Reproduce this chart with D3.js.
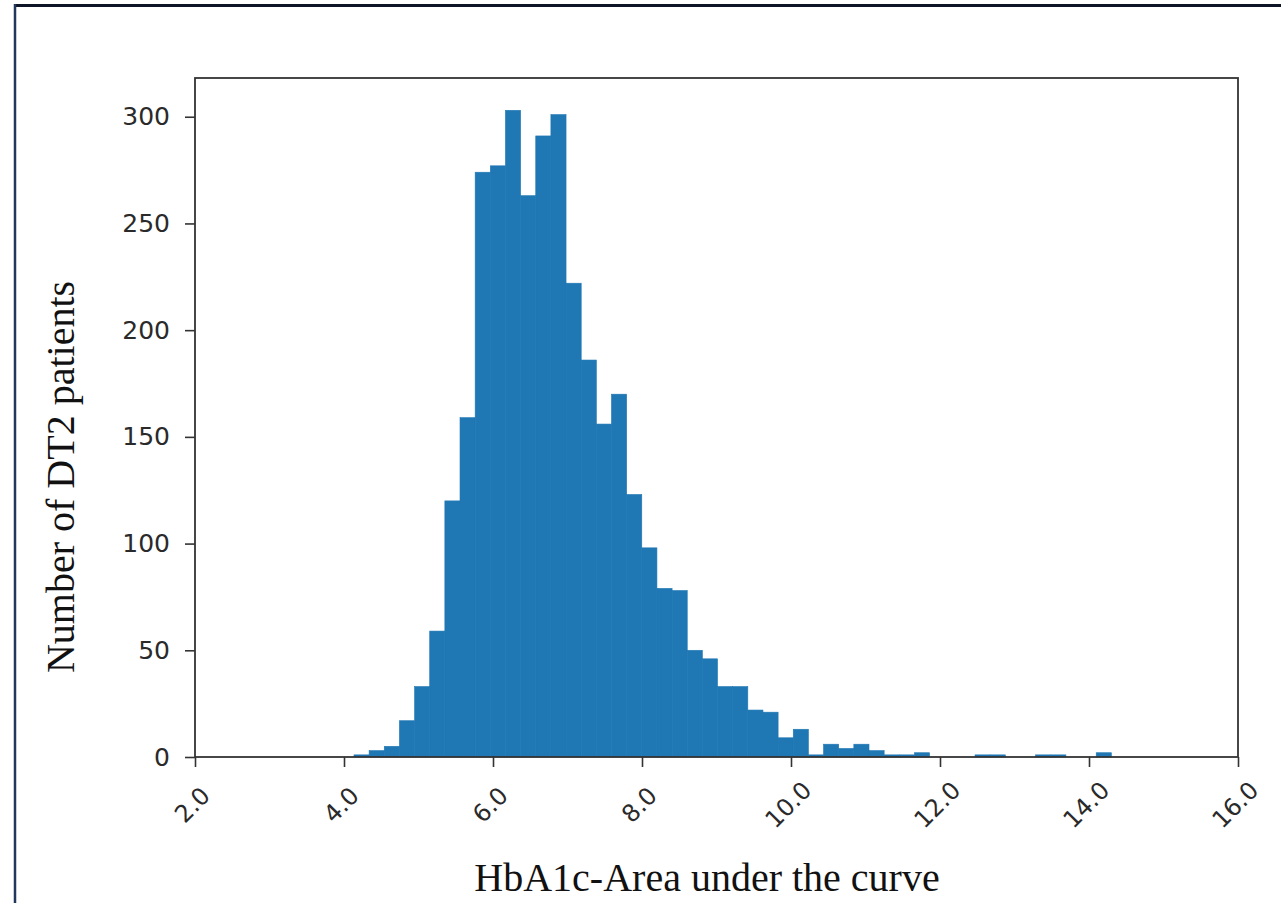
<!DOCTYPE html>
<html>
<head>
<meta charset="utf-8">
<script src="https://cdn.jsdelivr.net/npm/d3@7"></script>
<style>
  html, body { margin: 0; padding: 0; background: #fff; }
  svg { display: block; }
</style>
</head>
<body>
<svg id="chart" width="1281" height="903"></svg>
<script>
// ---- data ----
const binMin = 4.134;      // left edge of first bin
const binMax = 14.30;      // right edge of last bin
const counts = [1, 3, 5, 17, 33, 59, 120, 159, 274, 277,
                303, 263, 291, 301, 222, 186, 156, 170, 123, 98,
                79, 78, 50, 46, 33, 33, 22, 21, 9, 13,
                1, 6, 4, 6, 3, 1, 1, 2, 0, 0,
                0, 1, 1, 0, 0, 1, 1, 0, 0, 2];
const xTicks = [2, 4, 6, 8, 10, 12, 14, 16];
const yTicks = [0, 50, 100, 150, 200, 250, 300];
const xDomain = [2, 16];
const yDomain = [0, 318.15];
const xLabel = "HbA1c-Area under the curve";
const yLabel = "Number of DT2 patients";

// ---- layout ----
const svg = d3.select("#chart");
const L = 195, R = 1238, T = 78, B = 757;

// outer frame (top + left lines)
svg.append("line").attr("x1", 14).attr("x2", 1281).attr("y1", 5.5).attr("y2", 5.5)
  .attr("stroke", "#0d1526").attr("stroke-width", 3);
svg.append("line").attr("x1", 15).attr("x2", 15).attr("y1", 4).attr("y2", 903)
  .attr("stroke", "#22375e").attr("stroke-width", 2.5);

const x = d3.scaleLinear().domain(xDomain).range([L, R]);
const y = d3.scaleLinear().domain(yDomain).range([B, T]);

const n = counts.length;
const w = (binMax - binMin) / n;
const bins = counts.map((c, i) => ({x0: binMin + i * w, x1: binMin + (i + 1) * w, c}));

svg.append("g").selectAll("rect").data(bins.filter(d => d.c > 0)).join("rect")
  .attr("x", d => x(d.x0))
  .attr("width", d => x(d.x1) - x(d.x0))
  .attr("y", d => y(d.c))
  .attr("height", d => y(0) - y(d.c))
  .attr("fill", "#1f77b4")
  .attr("stroke", "#1f77b4")
  .attr("stroke-width", 0.6);

// axes
const xAxis = d3.axisBottom(x).tickValues(xTicks).tickSize(10).tickFormat(d3.format(".1f"));
const gx = svg.append("g").attr("transform", `translate(0,${B})`).call(xAxis);
gx.select(".domain").remove();
gx.selectAll(".tick line").attr("stroke", "#333").attr("stroke-width", 1.6);
gx.selectAll(".tick text")
  .attr("font-family", "DejaVu Sans")
  .attr("font-size", 24)
  .attr("fill", "#2a2a2a")
  .attr("y", 0).attr("dy", null)
  .attr("text-anchor", "middle")
  .attr("dominant-baseline", "central")
  .attr("transform", "translate(-3,48) rotate(-45)");

const yAxis = d3.axisLeft(y).tickValues(yTicks).tickSize(10).tickPadding(15);
const gy = svg.append("g").attr("transform", `translate(${L},0)`).call(yAxis);
gy.select(".domain").remove();
gy.selectAll(".tick line").attr("stroke", "#333").attr("stroke-width", 1.6);
gy.selectAll(".tick text")
  .attr("font-family", "DejaVu Sans")
  .attr("font-size", 25)
  .attr("fill", "#2a2a2a");

// frame of the plot
svg.append("rect").attr("x", L).attr("y", T).attr("width", R - L).attr("height", B - T)
  .attr("fill", "none").attr("stroke", "#333").attr("stroke-width", 1.8);

// labels
svg.append("text").attr("x", 707).attr("y", 891)
  .attr("text-anchor", "middle")
  .attr("font-family", "Liberation Serif").attr("font-size", 40)
  .attr("fill", "#111").text(xLabel);

svg.append("text")
  .attr("transform", "translate(74,477) rotate(-90)")
  .attr("text-anchor", "middle")
  .attr("font-family", "Liberation Serif").attr("font-size", 40)
  .attr("fill", "#111").text(yLabel);
</script>
</body>
</html>
